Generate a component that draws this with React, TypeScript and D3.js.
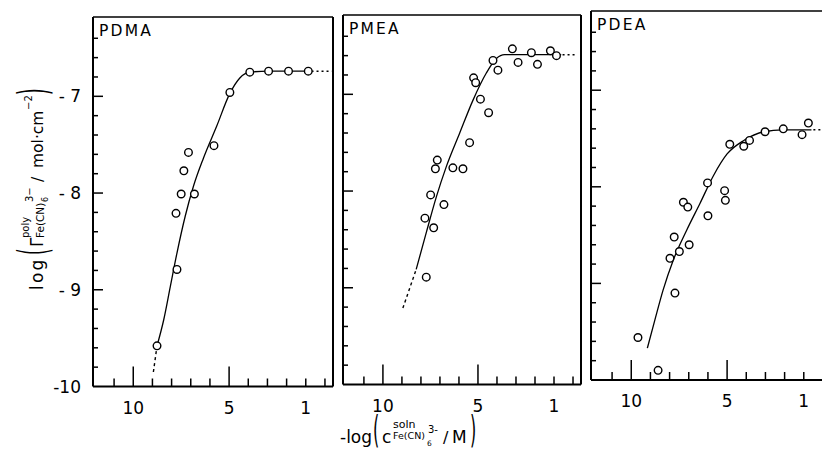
import React from "react";
import * as d3 from "d3";

// ---- data ----
const panelNames = ["PDMA", "PMEA", "PDEA"];

const xTickValues = [11, 10, 9, 8, 7, 6, 5, 4, 3, 2, 1, 0];
const xMajorTicks = [10, 5];
const xLabelValues = [10, 5, 1];
const xTickLabels = ["10", "5", "1"];

const yLabelValues = [-10, -9, -8, -7];
const yTickLabels = ["-10", "- 9", "- 8", "- 7"];
const yMinorTicks = d3.range(-9.8, -6.3, 0.2).map((v) => Math.round(v * 10) / 10);

const pdmaPoints: [number, number][] = [
  [8.76, -9.58], [7.72, -8.79], [7.77, -8.21], [7.5, -8.01], [6.81, -8.01],
  [7.36, -7.77], [7.12, -7.58], [5.79, -7.51], [4.96, -6.96], [3.92, -6.75],
  [2.94, -6.74], [1.9, -6.74], [0.87, -6.74],
];
const pdmaFit: [number, number][] = [
  [8.76, -9.58], [8.41, -9.31], [8.07, -8.97], [7.72, -8.62], [7.29, -8.24],
  [6.86, -7.93], [6.34, -7.64], [5.65, -7.31], [4.96, -6.97], [4.44, -6.81],
  [3.92, -6.75], [2.94, -6.74], [1.9, -6.74], [0.87, -6.74],
];
const pdmaLowDash: [number, number][] = [[8.95, -9.85], [8.76, -9.58]];
const pdmaHighDot: [number, number][] = [[0.7, -6.74], [-0.35, -6.74]];

const pmeaPoints: [number, number][] = [
  [7.72, -8.89], [7.79, -8.28], [7.33, -8.38], [7.49, -8.04], [6.79, -8.14],
  [7.14, -7.68], [7.24, -7.77], [6.32, -7.76], [5.79, -7.77], [5.44, -7.5],
  [4.44, -7.19], [4.87, -7.05], [5.23, -6.83], [5.12, -6.88], [4.21, -6.65],
  [3.95, -6.75], [3.19, -6.53], [2.89, -6.67], [2.19, -6.57], [1.87, -6.69],
  [1.19, -6.55], [0.87, -6.6],
];
const pmeaFit: [number, number][] = [
  [8.25, -8.81], [7.72, -8.43], [7.19, -8.06], [6.67, -7.75], [5.96, -7.4],
  [5.26, -7.06], [4.56, -6.78], [4.03, -6.63], [3.6, -6.59], [2.5, -6.59],
  [1.5, -6.59], [0.62, -6.59],
];
const pmeaLowDash: [number, number][] = [[8.95, -9.21], [8.25, -8.81]];
const pmeaHighDot: [number, number][] = [[0.55, -6.59], [-0.2, -6.59]];

const pdeaPoints: [number, number][] = [
  [9.65, -9.56], [8.6, -9.9], [7.72, -9.1], [7.98, -8.74], [7.49, -8.67],
  [7.76, -8.52], [6.98, -8.6], [7.28, -8.16], [7.05, -8.21], [6.0, -8.3],
  [6.02, -7.96], [5.13, -8.04], [5.09, -8.14], [4.86, -7.56], [4.13, -7.58],
  [3.83, -7.52], [3.02, -7.43], [2.07, -7.4], [1.09, -7.46], [0.76, -7.34],
];
const pdeaFit: [number, number][] = [
  [9.16, -9.67], [8.77, -9.38], [8.34, -9.07], [7.81, -8.76], [7.11, -8.45],
  [6.41, -8.17], [5.7, -7.88], [5.0, -7.66], [4.13, -7.52], [3.07, -7.43],
  [2.1, -7.41], [1.0, -7.41], [0.6, -7.41],
];
const pdeaLowDash: [number, number][] = [];
const pdeaHighDot: [number, number][] = [[0.5, -7.41], [-0.1, -7.41]];

const panelPoints = [pdmaPoints, pmeaPoints, pdeaPoints];
const panelFits = [pdmaFit, pmeaFit, pdeaFit];
const panelLowDash = [pdmaLowDash, pmeaLowDash, pdeaLowDash];
const panelHighDot = [pdmaHighDot, pmeaHighDot, pdeaHighDot];

const xDomain = [12.1, -0.42];
const yDomain = [-10, -6.18];

// ---- layout ----
const frames = [
  { left: 93, right: 333, top: 17, bottom: 386.5 },
  { left: 343, right: 581, top: 15, bottom: 384.5 },
  { left: 591, right: 831, top: 11, bottom: 380 },
];

const FONT = "'DejaVu Sans', 'Liberation Sans', sans-serif";

function Panel({ i }: { i: number }) {
  const f = frames[i];
  const xs = d3.scaleLinear().domain(xDomain).range([f.left, f.right]);
  const ys = d3.scaleLinear().domain(yDomain).range([f.bottom, f.top]);
  const line = d3
    .line<[number, number]>()
    .x((d) => xs(d[0]))
    .y((d) => ys(d[1]))
    .curve(d3.curveMonotoneX);
  const straight = d3
    .line<[number, number]>()
    .x((d) => xs(d[0]))
    .y((d) => ys(d[1]));
  return (
    <g>
      {/* frame */}
      <line x1={f.left} x2={f.right} y1={f.top} y2={f.top} stroke="#000" strokeWidth={1.5} />
      <line x1={f.left} x2={f.left} y1={f.top} y2={f.bottom} stroke="#000" strokeWidth={2} />
      <line x1={f.right} x2={f.right} y1={f.top} y2={f.bottom} stroke="#000" strokeWidth={2} />
      <line x1={f.left} x2={f.right} y1={f.bottom} y2={f.bottom} stroke="#000" strokeWidth={1.8} />
      {/* x ticks */}
      {xTickValues.map((v) => {
        const major = xMajorTicks.includes(v);
        return (
          <line key={"xt" + v} x1={xs(v)} x2={xs(v)} y1={f.bottom} y2={f.bottom - (major ? 20 : 8)}
            stroke="#000" strokeWidth={1.5} />
        );
      })}
      {xLabelValues.map((v, k) => (
        <text key={"xl" + v} x={xs(v)} y={f.bottom + 27} textAnchor="middle" fontSize={17}
          fontFamily={FONT} fill="#000">{xTickLabels[k]}</text>
      ))}
      {/* y ticks */}
      {yMinorTicks.map((v) => {
        const major = Math.abs(v - Math.round(v)) < 1e-6;
        return (
          <line key={"yt" + v} x1={f.left} x2={f.left + (major ? 10 : 5)} y1={ys(v)} y2={ys(v)}
            stroke="#000" strokeWidth={1.5} />
        );
      })}
      {i === 0 &&
        yLabelValues.map((v, k) => (
          <text key={"yl" + v} x={f.left - 12} y={ys(v) + 6} textAnchor="end" fontSize={17}
            fontFamily={FONT} fill="#000">{yTickLabels[k]}</text>
        ))}
      {/* title */}
      <text x={f.left + 6} y={f.top + 19} fontSize={15.5} letterSpacing={2.2} fontFamily={FONT}
        fill="#000">{panelNames[i]}</text>
      {/* fit lines */}
      <path d={line(panelFits[i]) || ""} fill="none" stroke="#000" strokeWidth={1.3} />
      {panelLowDash[i].length > 0 && (
        <path d={straight(panelLowDash[i]) || ""} fill="none" stroke="#000" strokeWidth={1.4}
          strokeDasharray="3,3" />
      )}
      <path d={straight(panelHighDot[i]) || ""} fill="none" stroke="#000" strokeWidth={1.5}
        strokeDasharray="2,3" />
      {/* points */}
      {panelPoints[i].map((d, k) => (
        <circle key={"p" + k} cx={xs(d[0])} cy={ys(d[1])} r={3.8} fill="#fff" stroke="#000"
          strokeWidth={1.4} />
      ))}
    </g>
  );
}

function BigParen({ x, y, ch, size, sy }: { x: number; y: number; ch: string; size: number; sy: number }) {
  return (
    <text transform={`translate(${x},${y}) scale(1,${sy})`} fontSize={size} fontFamily={FONT} fill="#000">
      {ch}
    </text>
  );
}

export default function App() {
  return (
    <svg width={822} height={454} style={{ position: "absolute", left: 0, top: 0, background: "#fff" }}>
      <rect x={0} y={0} width={822} height={454} fill="#fff" />
      {panelNames.map((_, i) => (
        <Panel key={i} i={i} />
      ))}
      {/* y axis label */}
      <g transform="translate(43,290) rotate(-90)" fontFamily={FONT} fill="#000">
        <text x={0} y={0} fontSize={17} letterSpacing={2.2}>log</text>
        <BigParen x={35} y={4} ch="(" size={17} sy={2.4} />
        <text x={43} y={0} fontSize={17}>Γ</text>
        <text x={52} y={-14} fontSize={10}>poly</text>
        <text x={52} y={1} fontSize={10.5}>Fe(CN)</text>
        <text x={88} y={5} fontSize={8}>6</text>
        <text x={88} y={-10} fontSize={10}>3−</text>
        <text x={108} y={0} fontSize={15.5}>/</text>
        <text x={122} y={0} fontSize={15.5}>mol·cm</text>
        <text x={180} y={-11} fontSize={10}>−2</text>
        <BigParen x={195} y={4} ch=")" size={17} sy={2.4} />
      </g>
      {/* x axis label */}
      <g fontFamily={FONT} fill="#000">
        <text x={340} y={443} fontSize={17}>-log</text>
        <BigParen x={373} y={443} ch="(" size={16} sy={2.3} />
        <text x={382} y={443} fontSize={17}>c</text>
        <text x={393} y={428} fontSize={11}>soln</text>
        <text x={393} y={439} fontSize={9.5}>Fe(CN)</text>
        <text x={427} y={446} fontSize={7.5}>6</text>
        <text x={428} y={433} fontSize={10}>3-</text>
        <text x={443} y={443} fontSize={16}>/</text>
        <text x={452} y={443} fontSize={17}>M</text>
        <BigParen x={470} y={443} ch=")" size={16} sy={2.3} />
      </g>
    </svg>
  );
}
